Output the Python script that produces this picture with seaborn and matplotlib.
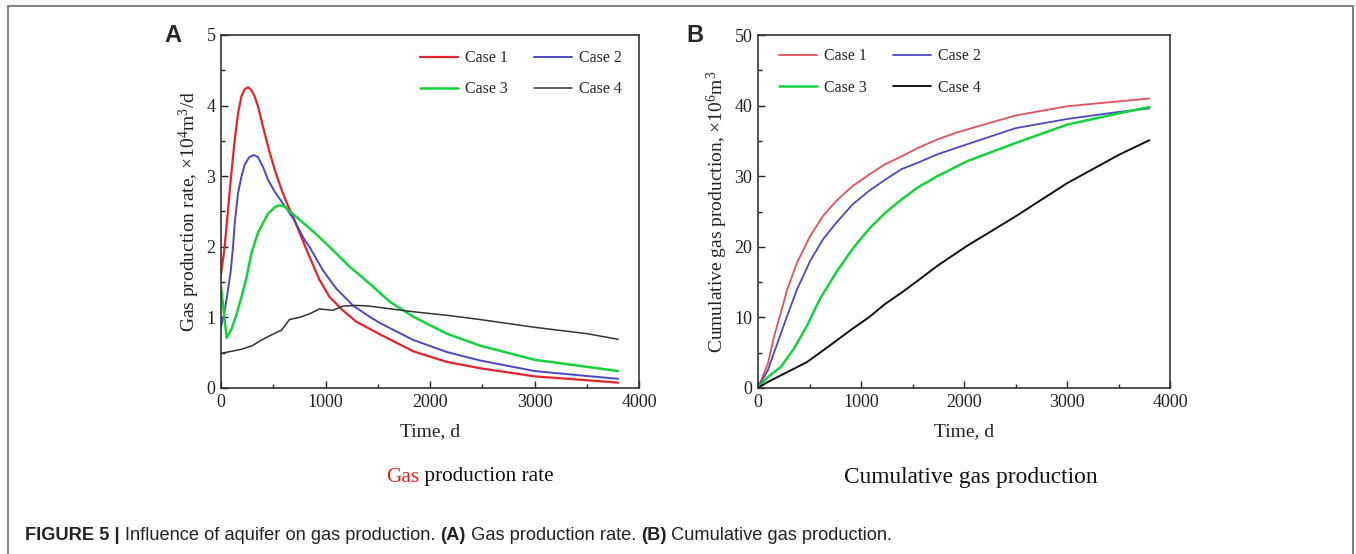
import matplotlib
matplotlib.use("Agg")
import matplotlib.pyplot as plt
from matplotlib.lines import Line2D
from matplotlib.ticker import MultipleLocator
import seaborn as sns
import pandas as pd

# ---------------- data ----------------
case_names = ["Case 1", "Case 2", "Case 3", "Case 4"]

# Panel A: gas production rate (x10^4 m3/d)
a1_t = [0, 35, 67, 99, 131, 163, 195, 226, 258, 290, 322, 354, 402, 450, 514, 577, 641, 692, 751, 847, 943, 1038, 1166, 1293, 1421, 1521, 1840, 2160, 2479, 3000, 3500, 3800]
a1_v = [1.61, 2.0, 2.52, 3.04, 3.51, 3.89, 4.13, 4.23, 4.26, 4.22, 4.13, 3.99, 3.70, 3.42, 3.09, 2.82, 2.58, 2.42, 2.2, 1.86, 1.53, 1.29, 1.10, 0.94, 0.84, 0.76, 0.52, 0.37, 0.28, 0.165, 0.11, 0.076]
a2_t = [0, 30, 60, 92, 115, 131, 163, 195, 226, 270, 316, 354, 402, 450, 514, 609, 692, 799, 847, 974, 1102, 1262, 1421, 1521, 1840, 2160, 2479, 3000, 3500, 3800]
a2_v = [0.86, 1.05, 1.32, 1.64, 2.0, 2.33, 2.76, 2.99, 3.16, 3.27, 3.30, 3.27, 3.13, 2.95, 2.78, 2.58, 2.40, 2.10, 2.0, 1.67, 1.41, 1.17, 1.01, 0.92, 0.68, 0.51, 0.39, 0.24, 0.17, 0.13]
a3_t = [0, 54, 102, 150, 198, 242, 293, 354, 450, 514, 561, 609, 657, 708, 895, 1038, 1230, 1421, 1617, 1840, 2160, 2479, 3000, 3500, 3800]
a3_v = [1.44, 0.71, 0.84, 1.05, 1.30, 1.55, 1.92, 2.2, 2.47, 2.56, 2.59, 2.57, 2.50, 2.44, 2.2, 2.0, 1.72, 1.48, 1.22, 1.01, 0.77, 0.60, 0.40, 0.30, 0.24]
a4_t = [0, 100, 200, 300, 389, 480, 580, 655, 751, 847, 943, 1070, 1166, 1293, 1421, 1521, 1840, 2160, 2479, 3000, 3500, 3800]
a4_v = [0.49, 0.52, 0.55, 0.60, 0.68, 0.75, 0.82, 0.97, 1.00, 1.05, 1.12, 1.10, 1.16, 1.17, 1.16, 1.14, 1.08, 1.03, 0.97, 0.86, 0.77, 0.69]

# Panel B: cumulative gas production (x10^6 m3)
b1_t = [0, 95, 158, 222, 285, 380, 506, 633, 760, 918, 1076, 1234, 1393, 1551, 1741, 1931, 2500, 3000, 3500, 3800]
b1_v = [0, 3.4, 7.4, 10.7, 14.0, 17.8, 21.5, 24.4, 26.5, 28.6, 30.2, 31.7, 32.8, 34.0, 35.2, 36.2, 38.6, 39.9, 40.6, 41.0]
b2_t = [0, 95, 158, 222, 285, 380, 506, 633, 760, 918, 1076, 1234, 1393, 1551, 1741, 2026, 2500, 3000, 3500, 3800]
b2_v = [0, 2.5, 5.1, 7.7, 10.3, 14.0, 18.0, 21.1, 23.4, 26.0, 27.9, 29.5, 31.0, 31.9, 33.1, 34.5, 36.8, 38.1, 39.1, 39.6]
b3_t = [0, 95, 222, 348, 475, 601, 760, 918, 1076, 1234, 1393, 1551, 1741, 2026, 2500, 3000, 3500, 3800]
b3_v = [0, 1.55, 3.0, 5.55, 8.8, 12.6, 16.4, 19.7, 22.5, 24.8, 26.7, 28.4, 30.0, 32.1, 34.7, 37.3, 38.9, 39.8]
b4_t = [0, 95, 285, 475, 696, 918, 1076, 1234, 1393, 1551, 1741, 2026, 2500, 3000, 3500, 3800]
b4_v = [0, 0.85, 2.26, 3.67, 6.0, 8.4, 10.0, 11.9, 13.5, 15.2, 17.3, 20.1, 24.3, 29.0, 33.0, 35.1]

x_ticks = [0, 1000, 2000, 3000, 4000]
a_y_ticks = [0, 1, 2, 3, 4, 5]
b_y_ticks = [0, 10, 20, 30, 40, 50]

a_ylabel = "Gas production rate, ×10$^{4}$m$^{3}$/d"
b_ylabel = "Cumulative gas production, ×10$^{6}$m$^{3}$"
xlabel = "Time, d"

# ---------------- styling ----------------
sns.set_style("ticks")
plt.rcParams["font.family"] = ["Liberation Serif", "DejaVu Serif"]
plt.rcParams["mathtext.fontset"] = "custom"
plt.rcParams["mathtext.rm"] = "Liberation Serif"
plt.rcParams["mathtext.it"] = "Liberation Serif:italic"
plt.rcParams["mathtext.bf"] = "Liberation Serif:bold"

colors_a = ["#e5232a", "#4a48c8", "#14d23c", "#333333"]
colors_b = ["#e4505c", "#4a48c8", "#14d23c", "#111111"]
lw_a = [1.6, 1.4, 1.8, 1.1]
lw_b = [1.3, 1.3, 1.8, 1.4]

def long_df(ts, vs):
    frames = []
    for name, t, v in zip(case_names, ts, vs):
        frames.append(pd.DataFrame({"t": t, "v": v, "case": name}))
    return pd.concat(frames, ignore_index=True)

df_a = long_df([a1_t, a2_t, a3_t, a4_t], [a1_v, a2_v, a3_v, a4_v])
df_b = long_df([b1_t, b2_t, b3_t, b4_t], [b1_v, b2_v, b3_v, b4_v])

W, H = 1356, 554
fig = plt.figure(figsize=(W / 100, H / 100), dpi=100)
fig.patch.set_facecolor("white")

def px_axes(l, t, r, b):
    return fig.add_axes([l / W, 1 - b / H, (r - l) / W, (b - t) / H])

ax_a = px_axes(221, 35, 639, 388)
ax_b = px_axes(758, 35, 1170, 388)

def draw(ax, df, colors, lws, ylim, yticks, ylabel, leg_anchor):
    for i, name in enumerate(case_names):
        sns.lineplot(data=df[df["case"] == name], x="t", y="v", ax=ax,
                     color=colors[i], lw=lws[i], estimator=None, sort=True,
                     legend=False)
    ax.set_xlim(0, 4000)
    ax.set_ylim(*ylim)
    ax.set_xticks(x_ticks)
    ax.set_yticks(yticks)
    ax.xaxis.set_minor_locator(MultipleLocator(500))
    ax.yaxis.set_minor_locator(MultipleLocator((yticks[1] - yticks[0]) / 2))
    ax.tick_params(which="both", direction="in", top=False, right=False,
                   labelsize=13, colors="#222222", width=1.0)
    ax.tick_params(which="major", length=5, pad=4)
    ax.tick_params(which="minor", length=3)
    for sp in ax.spines.values():
        sp.set_visible(True)
        sp.set_linewidth(1.2)
        sp.set_color("#333333")
    ax.set_xlabel(xlabel, fontsize=14, color="#222222", labelpad=9)
    ax.set_ylabel(ylabel, fontsize=14, color="#222222", labelpad=3)
    # row-wise legend order: Case 1, Case 2 / Case 3, Case 4
    order = [0, 2, 1, 3]
    handles = [Line2D([0], [0], color=colors[i], lw=lws[i]) for i in order]
    labels = [case_names[i] for i in order]
    ax.legend(handles, labels, ncol=2, frameon=False, loc="upper left",
              bbox_to_anchor=leg_anchor, fontsize=11.5, handlelength=2.4,
              handletextpad=0.45, columnspacing=1.6, labelspacing=0.95,
              borderaxespad=0)

draw(ax_a, df_a, colors_a, lw_a, (0, 5), a_y_ticks, a_ylabel, (0.46, 0.975))
draw(ax_b, df_b, colors_b, lw_b, (0, 50), b_y_ticks, b_ylabel, (0.035, 0.98))

# panel letters
fig.text(173 / W, 1 - 35 / H, "A", fontsize=17, fontweight="bold",
         family="Liberation Sans", ha="center", va="center")
fig.text(695 / W, 1 - 35 / H, "B", fontsize=17, fontweight="bold",
         family="Liberation Sans", ha="center", va="center")

renderer = fig.canvas.get_renderer()

def seq_text(x_px, y_px, pieces, size, family, ha="left"):
    arts = []
    x = x_px
    for s, wgt, col in pieces:
        t = fig.text(x / W, 1 - y_px / H, s, fontsize=size, fontweight=wgt,
                     color=col, family=family, ha="left", va="center")
        bb = t.get_window_extent(renderer)
        x += bb.width
        arts.append(t)
    total = x - x_px
    if ha == "center":
        for a in arts:
            a.set_x(a.get_position()[0] - total / 2 / W)
    return arts

seq_text(470, 477, [("Gas", "normal", "#e8201f"), (" production rate", "normal", "#111111")],
         15.3, "Liberation Serif", ha="center")
seq_text(971, 477, [("Cumulative gas production", "normal", "#111111")],
         16.8, "Liberation Serif", ha="center")

seq_text(25, 536, [("FIGURE 5 | ", "bold", "#222222"),
                   ("Influence of aquifer on gas production. ", "normal", "#222222"),
                   ("(A)", "bold", "#222222"),
                   (" Gas production rate. ", "normal", "#222222"),
                   ("(B)", "bold", "#222222"),
                   (" Cumulative gas production.", "normal", "#222222")],
         13.15, "Liberation Sans")

# outer frame (left, top, right)
frame_col = "#777777"
fig.add_artist(Line2D([8 / W, 8 / W], [0, 1 - 6 / H], color=frame_col, lw=1.3))
fig.add_artist(Line2D([8 / W, 1353 / W], [1 - 6 / H, 1 - 6 / H], color=frame_col, lw=1.3))
fig.add_artist(Line2D([1353 / W, 1353 / W], [0, 1 - 6 / H], color=frame_col, lw=1.3))

fig.savefig("out.png", dpi=100, facecolor="white")
